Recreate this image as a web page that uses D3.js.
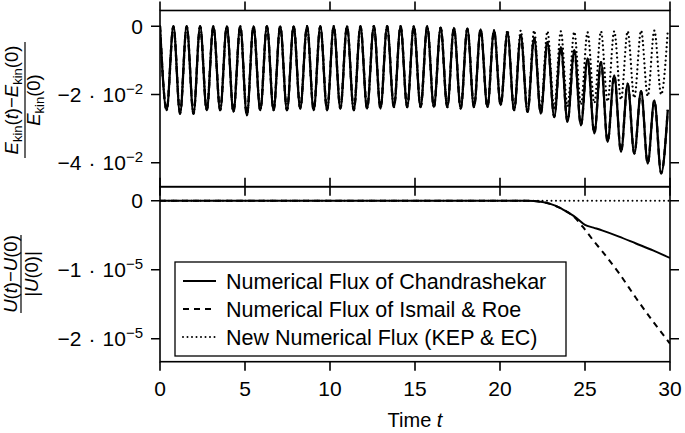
<!DOCTYPE html>
<html>
<head>
<meta charset="utf-8">
<script src="https://cdn.jsdelivr.net/npm/d3@7"></script>
<style>
body { margin: 0; background: #fff; }
svg { font-family: "Liberation Sans", Arial, sans-serif; }
</style>
</head>
<body>
<div id="chart"></div>
<script>
// times of the maxima / minima of the kinetic energy oscillation
var peakTimes = [0, 0.79, 1.57, 2.36, 3.14, 3.93, 4.72, 5.50, 6.29, 7.07, 7.86, 8.65, 9.43, 10.22, 11.00, 11.79, 12.58, 13.36, 14.15, 14.93,
  15.72, 16.51, 17.29, 18.08, 18.86, 19.65, 20.44, 21.22, 22.01, 22.79, 23.58, 24.37, 25.15, 25.94, 26.72, 27.51, 28.30, 29.08, 29.87];
var troughTimes = [0.39, 1.18, 1.97, 2.75, 3.54, 4.32, 5.11, 5.90, 6.68, 7.47, 8.25, 9.04, 9.83, 10.61, 11.40, 12.18, 12.97, 13.76, 14.54,
  15.33, 16.11, 16.90, 17.69, 18.47, 19.26, 20.04, 20.83, 21.62, 22.40, 23.19, 23.97, 24.76, 25.55, 26.33, 27.12, 27.90, 28.69, 29.48];

var chandraPeaks = [0, 0, 0, 0, 0, 0, 0, 0, 0, 0, 0, 0, 0, 0, 0, 0, 0, 0, 0, 0,
  0, -0.0004, -0.0005, -0.0007, -0.0009, -0.0012, -0.0018, -0.0027, -0.0035, -0.0047, -0.0061, -0.0071, -0.0095, -0.0105, -0.0144,
  -0.0168, -0.019, -0.0217, -0.0245];
var chandraTroughs = [-0.0246, -0.0256, -0.0256, -0.0246, -0.0246, -0.0251, -0.0261, -0.0246, -0.0246, -0.0246, -0.0241, -0.0246, -0.0246,
  -0.0241, -0.0246, -0.0241, -0.0241, -0.0237, -0.0237, -0.0237, -0.0237, -0.0237, -0.0241, -0.0237, -0.0237, -0.0231,
  -0.0246, -0.0251, -0.0256, -0.0266, -0.028, -0.029, -0.0314, -0.0339, -0.0368, -0.0373, -0.0402, -0.0431];
var ismailPeaks = chandraPeaks;
var ismailTroughs = chandraTroughs;
var kepPeaks = [0, 0, 0, 0, 0, 0, 0, 0, 0, 0, 0, 0, 0, 0, 0, 0, 0, 0, 0, 0,
  0, -0.0004, -0.0005, -0.0007, -0.0009, -0.0012, -0.0012, -0.0013, -0.0013, -0.0015, -0.0015, -0.0017, -0.0018, -0.0015, -0.0015,
  -0.0015, -0.0013, -0.0013, -0.0013];
var kepTroughs = [-0.0246, -0.0256, -0.0256, -0.0246, -0.0246, -0.0251, -0.0261, -0.0246, -0.0246, -0.0246, -0.0241, -0.0246, -0.0246,
  -0.0241, -0.0246, -0.0241, -0.0241, -0.0237, -0.0237, -0.0237, -0.0237, -0.0237, -0.0241, -0.0237, -0.0237, -0.0231,
  -0.0246, -0.0251, -0.0245, -0.024, -0.0235, -0.023, -0.0225, -0.022, -0.0215, -0.021, -0.0205, -0.02];

// entropy change
var uTimes = [0, 21.5, 22.5, 23, 23.5, 24, 24.5, 25, 25.5, 26, 27, 28, 29, 30];
var chandraU = [0, 0, -0.02e-5, -0.05e-5, -0.1e-5, -0.17e-5, -0.25e-5, -0.35e-5, -0.39e-5, -0.43e-5, -0.52e-5, -0.62e-5, -0.72e-5, -0.83e-5];
var ismailU = [0, 0, -0.02e-5, -0.05e-5, -0.1e-5, -0.17e-5, -0.27e-5, -0.42e-5, -0.58e-5, -0.73e-5, -1.05e-5, -1.41e-5, -1.75e-5, -2.07e-5];
var kepU = [0, 0, 0, 0, 0, 0, 0, 0, 0, 0, 0, 0, 0, 0];

var legendLabels = ["Numerical Flux of Chandrashekar", "Numerical Flux of Ismail & Roe", "New Numerical Flux (KEP & EC)"];
var xTicks = [0, 5, 10, 15, 20, 25, 30];
var ekinTicks = [0, -0.02, -0.04];
var ekinTickText = [["0"], ["\u22122", "10", "\u22122"], ["\u22124", "10", "\u22122"]];
var uTicks = [0, -1e-5, -2e-5];
var uTickText = [["0"], ["\u22121", "10", "\u22125"], ["\u22122", "10", "\u22125"]];

var W = 685, H = 433;
var left = 160, right = 670;
var top1 = 10.5, bot1 = 186.7, top2 = 186.7, bot2 = 361.7;
var tickLen = 9;

var svg = d3.select("#chart").append("svg")
  .attr("width", W).attr("height", H);

var x = d3.scaleLinear().domain([0, 30]).range([left, right]);
var y1 = d3.scaleLinear().domain([-0.047, 0.0046]).range([bot1, top1]);
var y2 = d3.scaleLinear().domain([-2.333e-5, 0.203e-5]).range([bot2, top2]);

function merge(p, t) {
  var pts = peakTimes.map(function(d, i) { return [d, p[i]]; })
    .concat(troughTimes.map(function(d, i) { return [d, t[i]]; }));
  pts.sort(function(a, b) { return a[0] - b[0]; });
  return pts;
}

var styles = [
  {dash: null, cap: "butt"},
  {dash: "6,5", cap: "butt"},
  {dash: "0,4.5", cap: "round"}
];

svg.append("clipPath").attr("id", "c1").append("rect")
  .attr("x", left).attr("y", top1).attr("width", right - left).attr("height", bot1 - top1);
svg.append("clipPath").attr("id", "c2").append("rect")
  .attr("x", left).attr("y", top2).attr("width", right - left).attr("height", bot2 - top2);

// top panel
var line1 = d3.line().x(function(d) { return x(d[0]); }).y(function(d) { return y1(d[1]); }).curve(d3.curveMonotoneX);
var topSeries = [
  {pts: merge(kepPeaks, kepTroughs), s: styles[2]},
  {pts: merge(ismailPeaks, ismailTroughs), s: styles[1]},
  {pts: merge(chandraPeaks, chandraTroughs), s: styles[0]}
];
svg.append("g").attr("clip-path", "url(#c1)")
  .selectAll("path").data(topSeries).enter().append("path")
  .attr("d", function(d) { return line1(d.pts); })
  .attr("fill", "none").attr("stroke", "#000").attr("stroke-width", 2.3)
  .attr("stroke-dasharray", function(d) { return d.s.dash; })
  .attr("stroke-linecap", function(d) { return d.s.cap; });

// bottom panel
var line2 = d3.line().x(function(d) { return x(d[0]); }).y(function(d) { return y2(d[1]); }).curve(d3.curveMonotoneX);
var botSeries = [
  {vals: kepU, s: styles[2]},
  {vals: ismailU, s: styles[1]},
  {vals: chandraU, s: styles[0]}
];
svg.append("g").attr("clip-path", "url(#c2)")
  .selectAll("path").data(botSeries).enter().append("path")
  .attr("d", function(d) { return line2(uTimes.map(function(t, i) { return [t, d.vals[i]]; })); })
  .attr("fill", "none").attr("stroke", "#000").attr("stroke-width", 2)
  .attr("stroke-dasharray", function(d) { return d.s.dash; })
  .attr("stroke-linecap", function(d) { return d.s.cap; });

// frames and ticks
function frame(yScale, ticks, yTop, yBot) {
  var g = svg.append("g").attr("stroke", "#000").attr("stroke-width", 1.6).attr("fill", "none");
  g.append("rect").attr("x", left).attr("y", yTop).attr("width", right - left).attr("height", yBot - yTop);
  g.selectAll(".xt").data(xTicks).enter().append("path")
    .attr("d", function(d) { return "M" + x(d) + "," + yTop + "v" + (-tickLen) + "M" + x(d) + "," + yBot + "v" + tickLen; });
  g.selectAll(".yt").data(ticks).enter().append("path")
    .attr("d", function(d) { return "M" + left + "," + yScale(d) + "h" + (-tickLen) + "M" + right + "," + yScale(d) + "h" + tickLen; });
}
frame(y1, ekinTicks, top1, bot1);
frame(y2, uTicks, top2, bot2);

function yLabels(yScale, ticks, texts) {
  ticks.forEach(function(v, i) {
    var tx = svg.append("text").attr("x", 143).attr("y", yScale(v) + 7.5)
      .attr("text-anchor", "end").attr("font-size", 21);
    var parts = texts[i];
    if (parts.length === 1) { tx.text(parts[0]); return; }
    tx.append("tspan").text(parts[0]);
    tx.append("tspan").attr("dx", 7).text("\u00b7");
    tx.append("tspan").attr("dx", 7).text(parts[1]);
    tx.append("tspan").attr("dy", -8).attr("font-size", 15).text(parts[2]);
  });
}
yLabels(y1, ekinTicks, ekinTickText);
yLabels(y2, uTicks, uTickText);

svg.append("g").selectAll("text").data(xTicks).enter().append("text")
  .attr("x", function(d) { return x(d); }).attr("y", 395.5)
  .attr("text-anchor", "middle").attr("font-size", 21)
  .text(function(d) { return d; });

var xl = svg.append("text").attr("x", x(15)).attr("y", 427)
  .attr("text-anchor", "middle").attr("font-size", 20);
xl.append("tspan").text("Time ");
xl.append("tspan").attr("font-style", "italic").text("t");

// y axis labels (fractions)
var f1 = svg.append("g").attr("transform", "translate(25,100) rotate(-90)");
var n1 = f1.append("text").attr("y", -7).attr("text-anchor", "middle").attr("font-size", 18.5);
n1.append("tspan").attr("font-style", "italic").text("E");
n1.append("tspan").attr("font-size", 13).attr("dy", 4).text("kin");
n1.append("tspan").attr("dy", -4).text("(");
n1.append("tspan").attr("font-style", "italic").text("t");
n1.append("tspan").text(")\u2212");
n1.append("tspan").attr("font-style", "italic").text("E");
n1.append("tspan").attr("font-size", 13).attr("dy", 4).text("kin");
n1.append("tspan").attr("dy", -4).text("(0)");
f1.append("line").attr("x1", -58).attr("x2", 58).attr("y1", 0).attr("y2", 0)
  .attr("stroke", "#000").attr("stroke-width", 1.2);
var d1 = f1.append("text").attr("y", 15).attr("text-anchor", "middle").attr("font-size", 18.5);
d1.append("tspan").attr("font-style", "italic").text("E");
d1.append("tspan").attr("font-size", 13).attr("dy", 4).text("kin");
d1.append("tspan").attr("dy", -4).text("(0)");

var f2 = svg.append("g").attr("transform", "translate(21,274) rotate(-90)");
var n2 = f2.append("text").attr("y", -4).attr("text-anchor", "middle").attr("font-size", 18.5);
n2.append("tspan").attr("font-style", "italic").text("U");
n2.append("tspan").text("(");
n2.append("tspan").attr("font-style", "italic").text("t");
n2.append("tspan").text(")\u2212");
n2.append("tspan").attr("font-style", "italic").text("U");
n2.append("tspan").text("(0)");
f2.append("line").attr("x1", -39).attr("x2", 39).attr("y1", 0).attr("y2", 0)
  .attr("stroke", "#000").attr("stroke-width", 1.2);
var d2 = f2.append("text").attr("y", 17).attr("text-anchor", "middle").attr("font-size", 18.5);
d2.append("tspan").text("|");
d2.append("tspan").attr("font-style", "italic").text("U");
d2.append("tspan").text("(0)|");

// legend
var lg = svg.append("g");
lg.append("rect").attr("x", 175).attr("y", 262).attr("width", 391).attr("height", 94)
  .attr("fill", "#fff").attr("stroke", "#000").attr("stroke-width", 1.3);
var rows = lg.selectAll("g.row").data(legendLabels).enter().append("g")
  .attr("transform", function(d, i) { return "translate(0," + (281 + i * 28) + ")"; });
rows.append("line").attr("x1", 183).attr("x2", 216).attr("y1", 0).attr("y2", 0)
  .attr("stroke", "#000").attr("stroke-width", 2)
  .attr("stroke-dasharray", function(d, i) { return styles[i].dash; })
  .attr("stroke-linecap", function(d, i) { return styles[i].cap; });
rows.append("text").attr("x", 226).attr("y", 7.5).attr("font-size", 21.5)
  .text(function(d) { return d; });
</script>
</body>
</html>
